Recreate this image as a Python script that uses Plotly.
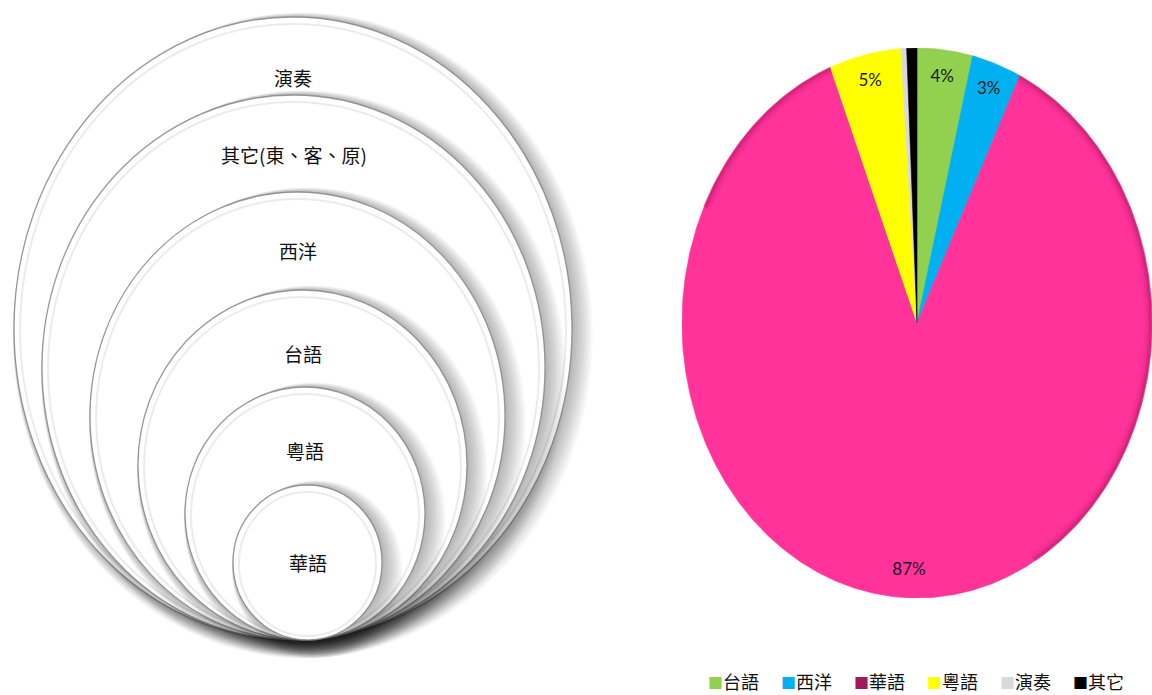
import numpy as np
import plotly.graph_objects as go

# Share of songs by language (%)
categories = ["台語", "西洋", "華語", "粵語", "演奏", "其它"]
shares = [3.8, 3.4, 86.7, 4.9, 0.4, 0.7]
slice_colors = ["#92D050", "#00B0F0", "#FF3399", "#FFFF00", "#D9D9D9", "#000000"]
legend_colors = ["#92D050", "#00B0F0", "#A0195A", "#FFFF00", "#D9D9D9", "#000000"]

# Nested-circle diagram labels, outer to inner
ring_labels = ["演奏", "其它(東、客、原)", "西洋", "台語", "粵語", "華語"]

# Diagram geometry in pixel units: (left, top, right); all rings touch at the bottom
ring_boxes = [(14, 17, 572), (42, 95, 545), (90, 192, 505),
              (138, 290, 467), (185, 387, 425), (233, 485, 382)]
ring_bottom = 640
ring_label_y = [77, 154, 250, 353, 450, 562]

CJK = "Noto Sans CJK TC"

fig = go.Figure()

# ---- pie drawn as an ellipse on a unit-radius axis pair ----
total = sum(shares)
frac = np.array(shares) / total
edges = np.concatenate([[0.0], np.cumsum(frac)])
two_pi = 2 * np.pi

for i, (cat, col) in enumerate(zip(categories, slice_colors)):
    a0, a1 = edges[i] * two_pi, edges[i + 1] * two_pi
    n = max(6, int(600 * frac[i]))
    t = np.linspace(a0, a1, n)
    xs = np.concatenate([[0], np.sin(t), [0]])
    ys = np.concatenate([[0], np.cos(t), [0]])
    fig.add_trace(go.Scatter(
        x=xs, y=ys, fill="toself", fillcolor=col, mode="lines",
        line=dict(width=0.6, color=col), name=cat,
        hoverinfo="name", showlegend=False, xaxis="x", yaxis="y"))

# soft darker rim on the large slice (bevel effect)
pink = categories.index("華語")
p0, p1 = edges[pink] * two_pi, edges[pink + 1] * two_pi
rim_spans = [(p0, np.deg2rad(150)), (np.deg2rad(295), p1)]
for r, a in [(0.997, 0.22), (0.990, 0.14), (0.982, 0.08), (0.973, 0.04)]:
    for s0, s1 in rim_spans:
        t = np.linspace(s0, s1, 200)
        fig.add_trace(go.Scatter(
            x=r * np.sin(t), y=r * np.cos(t), mode="lines",
            line=dict(width=3, color=f"rgba(110,0,50,{a})"),
            hoverinfo="skip", showlegend=False, xaxis="x", yaxis="y"))

# percentage labels
lab_x, lab_y, lab_t = [], [], []
for i in range(len(categories)):
    pct = int(round(frac[i] * 100))
    if pct < 1:
        continue
    mid = (edges[i] + edges[i + 1]) / 2 * two_pi
    r = 0.9 if frac[i] >= 0.015 else 1.06
    lab_x.append(r * np.sin(mid))
    lab_y.append(r * np.cos(mid))
    lab_t.append(f"{pct}%")
fig.add_trace(go.Scatter(
    x=lab_x, y=lab_y, text=lab_t, mode="text", cliponaxis=False,
    textfont=dict(family="Lato, Open Sans, sans-serif", size=17, color="#1a1a1a"),
    hoverinfo="skip", showlegend=False, xaxis="x", yaxis="y"))

# placeholder trace so the pixel-unit overlay axes exist
fig.add_trace(go.Scatter(x=[0], y=[0], mode="markers", marker=dict(opacity=0),
                         hoverinfo="skip", showlegend=False, xaxis="x2", yaxis="y2"))

# ---- nested circles with soft drop shadows ----
shapes = []
for (l, t, r) in ring_boxes:
    b = ring_bottom
    for k in range(14):
        dx = 1.0 * k
        dy = 0.8 * k
        grow = 0.6 * k
        shapes.append(dict(type="circle", xref="x2", yref="y2",
                           x0=l + dx * 0.5 - grow, x1=r + dx + grow,
                           y0=t + dy * 0.3 - grow, y1=b + dy + grow,
                           fillcolor="rgba(0,0,0,0.022)",
                           line=dict(width=0, color="rgba(0,0,0,0)")))
    shapes.append(dict(type="circle", xref="x2", yref="y2",
                       x0=l, x1=r, y0=t, y1=b, fillcolor="white",
                       line=dict(width=1.3, color="rgba(130,130,130,0.8)")))
    shapes.append(dict(type="circle", xref="x2", yref="y2",
                       x0=l + 6, x1=r - 6, y0=t + 7, y1=b - 4,
                       fillcolor="rgba(0,0,0,0)",
                       line=dict(width=2, color="rgba(0,0,0,0.08)")))

annotations = []
for (l, t, r), lab, ly in zip(ring_boxes, ring_labels, ring_label_y):
    annotations.append(dict(x=(l + r) / 2, y=ly, xref="x2", yref="y2", text=lab,
                            showarrow=False, font=dict(family=CJK, size=19, color="#111")))

# legend row under the pie
leg_x0, leg_step, leg_y = 707, 73, 681
for i, (cat, col) in enumerate(zip(categories, legend_colors)):
    annotations.append(dict(
        x=leg_x0 + i * leg_step, y=leg_y, xref="x2", yref="y2",
        xanchor="left", yanchor="middle", borderpad=0,
        text=f'<span style="color:{col};font-size:15px">■</span>{cat}',
        showarrow=False, font=dict(family=CJK, size=18, color="#111")))

fig.update_layout(
    width=1152, height=695, margin=dict(l=0, r=0, t=0, b=0),
    paper_bgcolor="white", plot_bgcolor="rgba(0,0,0,0)", showlegend=False,
    xaxis=dict(domain=[682 / 1152, 1.0], range=[-1, 1], visible=False, fixedrange=True),
    yaxis=dict(domain=[97 / 695, 647 / 695], range=[-1, 1], visible=False, fixedrange=True),
    xaxis2=dict(domain=[0, 1], range=[0, 1152], visible=False, anchor="y2", fixedrange=True),
    yaxis2=dict(domain=[0, 1], range=[695, 0], visible=False, anchor="x2", fixedrange=True),
    shapes=shapes, annotations=annotations,
)

fig.write_html("out.html")
